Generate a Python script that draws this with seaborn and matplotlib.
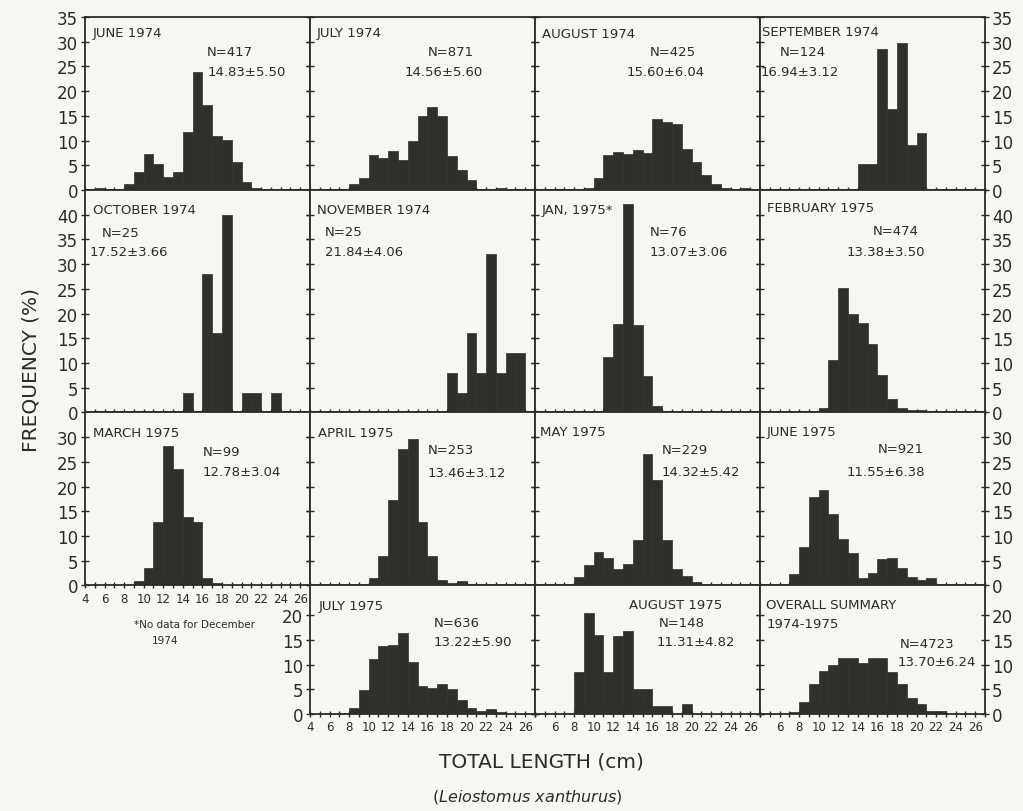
import matplotlib
matplotlib.use("Agg")
import matplotlib.pyplot as plt
import pandas as pd
import seaborn as sns

# Length classes (whole cm); class k covers k to k+1 cm
LENGTH_CM = list(range(4, 27))

# Percent frequency per length class, 4 cm ... 26 cm
JUN_1974 = [0, 0.5, 0, 0, 1.2, 3.6, 7.2, 5.2, 2.7, 3.6, 11.7, 23.9, 17.2, 10.9, 10.1, 5.6, 1.6, 0.5, 0, 0, 0, 0, 0]
JUL_1974 = [0, 0, 0.3, 0.3, 1.2, 2.5, 7.0, 6.5, 7.8, 6.0, 9.9, 15.0, 16.8, 15.0, 6.8, 4.0, 2.1, 0, 0, 0.4, 0, 0, 0]
AUG_1974 = [0, 0, 0, 0, 0.2, 0.5, 2.5, 7.0, 7.7, 7.3, 8.0, 7.5, 14.3, 13.7, 13.3, 8.3, 5.7, 3.0, 1.2, 0.5, 0, 0.5, 0]
SEP_1974 = [0, 0, 0, 0, 0, 0, 0, 0, 0.3, 0.3, 5.2, 5.2, 28.5, 16.3, 29.8, 9.1, 11.5, 0, 0, 0, 0, 0, 0]
OCT_1974 = [0, 0, 0, 0, 0, 0, 0, 0, 0, 0, 4, 0, 28, 16, 40, 0, 4, 4, 0, 4, 0, 0, 0]
NOV_1974 = [0, 0, 0, 0, 0, 0, 0, 0, 0, 0, 0, 0, 0, 0, 8, 4, 16, 8, 32, 8, 12, 12, 0]
JAN_1975 = [0, 0, 0, 0, 0, 0, 0, 11.3, 17.9, 42.1, 17.7, 7.3, 1.3, 0, 0, 0, 0, 0, 0, 0, 0, 0, 0]
FEB_1975 = [0, 0, 0, 0, 0, 0, 1.0, 10.6, 25.1, 19.9, 18.0, 13.9, 7.6, 2.7, 0.9, 0.4, 0.4, 0, 0, 0, 0, 0, 0]
MAR_1975 = [0, 0, 0, 0, 0, 1.0, 3.6, 12.9, 28.3, 23.6, 13.9, 12.8, 1.6, 0.6, 0, 0, 0, 0, 0, 0, 0, 0, 0]
APR_1975 = [0, 0, 0, 0, 0, 0, 1.5, 6.0, 17.3, 27.7, 29.6, 12.9, 6.0, 1.2, 0.5, 0.9, 0, 0, 0, 0, 0, 0, 0]
MAY_1975 = [0, 0, 0.3, 0, 1.7, 4.1, 6.8, 5.6, 3.4, 4.4, 9.3, 26.5, 21.4, 9.2, 3.4, 1.9, 0.7, 0, 0.3, 0, 0, 0, 0]
JUN_1975 = [0, 0, 0.2, 2.3, 7.7, 17.9, 19.3, 14.5, 9.5, 6.5, 1.5, 2.5, 5.3, 5.5, 3.5, 1.8, 1.1, 1.5, 0, 0, 0, 0, 0]
JUL_1975 = [0, 0, 0, 0.3, 1.2, 4.8, 11.1, 13.8, 14.0, 16.4, 10.5, 5.6, 5.2, 6.0, 5.0, 2.8, 1.2, 0.7, 1.1, 0.5, 0, 0, 0]
AUG_1975 = [0, 0, 0, 0, 8.5, 20.5, 16.0, 8.5, 15.7, 16.8, 5.0, 5.0, 1.7, 1.7, 0, 2.1, 0, 0, 0, 0, 0, 0, 0]
OVERALL = [0, 0, 0, 0.5, 2.5, 6.0, 8.7, 9.9, 11.3, 11.3, 10.3, 11.3, 11.3, 8.5, 6.1, 3.3, 2.0, 0.7, 0.7, 0, 0, 0, 0]

TITLES = ["JUNE 1974", "JULY 1974", "AUGUST 1974", "SEPTEMBER 1974",
          "OCTOBER 1974", "NOVEMBER 1974", "JAN, 1975*", "FEBRUARY 1975",
          "MARCH 1975", "APRIL 1975", "MAY 1975", "JUNE 1975",
          "JULY 1975", "AUGUST 1975", "OVERALL SUMMARY"]
N_LABELS = ["N=417", "N=871", "N=425", "N=124", "N=25", "N=25", "N=76", "N=474",
            "N=99", "N=253", "N=229", "N=921", "N=636", "N=148", "N=4723"]
MEAN_SD = ["14.83±5.50", "14.56±5.60", "15.60±6.04", "16.94±3.12",
           "17.52±3.66", "21.84±4.06", "13.07±3.06", "13.38±3.50",
           "12.78±3.04", "13.46±3.12", "14.32±5.42", "11.55±6.38",
           "13.22±5.90", "11.31±4.82", "13.70±6.24"]
FREQS = [JUN_1974, JUL_1974, AUG_1974, SEP_1974, OCT_1974, NOV_1974, JAN_1975, FEB_1975,
         MAR_1975, APR_1975, MAY_1975, JUN_1975, JUL_1975, AUG_1975, OVERALL]

# grid cell of each panel
CELLS = [(0, 0), (0, 1), (0, 2), (0, 3), (1, 0), (1, 1), (1, 2), (1, 3),
         (2, 0), (2, 1), (2, 2), (2, 3), (3, 1), (3, 2), (3, 3)]

# text offsets (pixels from the panel's top-left corner): title, N, mean
TEXT_POS = [
    ((8, 16), (122, 35), (123, 55)),
    ((7, 16), (118, 35), (95, 54)),
    ((7, 16), (115, 35), (92, 54)),
    ((2, 15), (20, 34), (1, 54)),
    ((8, 19), (17, 42), (5, 61)),
    ((7, 19), (15, 41), (15, 61)),
    ((7, 19), (115, 41), (115, 61)),
    ((7, 17), (113, 40), (87, 61)),
    ((8, 20), (118, 39), (118, 59)),
    ((8, 20), (118, 37), (118, 60)),
    ((5, 19), (127, 37), (127, 59)),
    ((7, 19), (118, 36), (87, 59)),
    ((9, 20), (124, 37), (124, 56)),
    ((94, 19), (124, 37), (122, 56)),
    ((6, 19), (140, 58), (138, 76)),
]

ROW_YMAX = [35, 45, 35, 26]
ROW_YTOP_LABEL = [35, 40, 30, 20]

INK = "#2b2b28"
BAR = "#30302b"
PAPER = "#f7f6f1"

sns.set_theme(style="ticks")
plt.rcParams["font.family"] = ["DejaVu Sans"]
plt.rcParams["text.color"] = INK
plt.rcParams["axes.edgecolor"] = INK
plt.rcParams["xtick.color"] = INK
plt.rcParams["ytick.color"] = INK

fig = plt.figure(figsize=(10.23, 8.12), dpi=100, facecolor=PAPER)
gs = fig.add_gridspec(4, 4, height_ratios=ROW_YMAX, hspace=0, wspace=0,
                      left=85 / 1023, right=985 / 1023,
                      top=1 - 18 / 812, bottom=1 - 715 / 812)

TICKS = list(range(4, 28))

for i, (r, c) in enumerate(CELLS):
    ax = fig.add_subplot(gs[r, c])
    ax.set_facecolor(PAPER)
    df = pd.DataFrame({"length": LENGTH_CM, "pct": FREQS[i]})
    sns.histplot(data=df, x="length", weights="pct", binwidth=1, binrange=(4, 27),
                 stat="count", color=BAR, alpha=1.0, edgecolor=BAR, linewidth=0.5, ax=ax)
    ax.set_xlim(4, 27)
    ax.set_ylim(0, ROW_YMAX[r])
    ax.set_xlabel("")
    ax.set_ylabel("")
    for s in ax.spines.values():
        s.set_visible(True)
        s.set_linewidth(1.3)
        s.set_color(INK)

    # x ticks every centimetre, labels every 2 cm on the lowest panels
    ax.set_xticks(TICKS)
    show_x = (r == 3) or (r == 2 and c == 0)
    if show_x:
        first = 4 if c <= 1 else 6
        ax.set_xticklabels([str(v) if (v % 2 == 0 and first <= v <= 26) else "" for v in TICKS])
    else:
        ax.set_xticklabels([])
    ax.tick_params(axis="x", direction="inout", length=5, width=1.0, bottom=True,
                   top=False, labelsize=8.5, pad=2)

    yt = list(range(0, ROW_YTOP_LABEL[r] + 1, 5))
    ax.set_yticks(yt)
    ax.set_yticklabels([str(v) for v in yt])
    show_left = (c == 0) or (r == 3 and c == 1)
    show_right = (c == 3)
    ax.tick_params(axis="y", direction="inout", length=6, width=1.0, left=True, right=True,
                   labelleft=show_left, labelright=show_right, labelsize=12, pad=2)

    (tx, ty), (nx, ny), (mx, my) = TEXT_POS[i]
    kw = dict(xy=(0, 1), xycoords="axes fraction", textcoords="offset pixels",
              ha="left", va="center", fontsize=9.5, color=INK)
    ax.annotate(TITLES[i], xytext=(tx, -ty), **kw)
    ax.annotate(N_LABELS[i], xytext=(nx, -ny), **kw)
    ax.annotate(MEAN_SD[i], xytext=(mx, -my), **kw)
    if i == len(CELLS) - 1:
        ax.annotate("1974-1975", xytext=(7, -38), **kw)

fig.text(195 / 1023, 1 - 625 / 812, "*No data for December", fontsize=7.5,
         ha="center", va="center", color=INK)
fig.text(165 / 1023, 1 - 641 / 812, "1974", fontsize=7.5, ha="center", va="center", color=INK)

fig.text(31 / 1023, 1 - 370 / 812, "FREQUENCY (%)", rotation=90, fontsize=14.5,
         ha="center", va="center", color=INK)
fig.text(541 / 1023, 1 - 762 / 812, "TOTAL LENGTH (cm)", fontsize=14.5,
         ha="center", va="center", color=INK)
fig.text(527 / 1023, 1 - 797 / 812, r"($\it{Leiostomus\ xanthurus}$)", fontsize=11.5,
         ha="center", va="center", color=INK)

fig.savefig("out.png", dpi=100, facecolor=PAPER)
